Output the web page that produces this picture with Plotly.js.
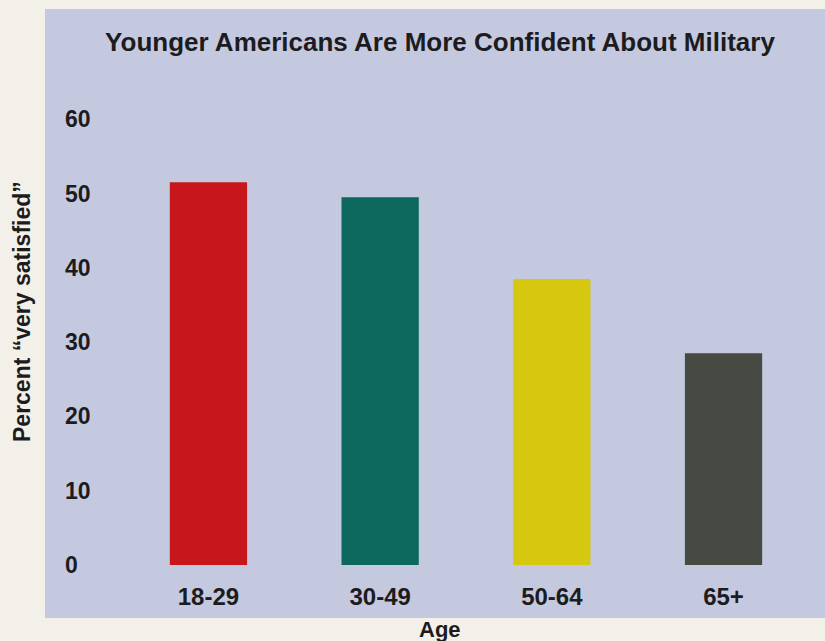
<!DOCTYPE html>
<html>
<head>
<meta charset="utf-8">
<script src="https://cdn.plot.ly/plotly-3.0.1.min.js"></script>
<style>
  html, body { margin: 0; padding: 0; background: #f3f0ea; }
  #chart { width: 825px; height: 641px; }
</style>
</head>
<body>
<div id="chart"></div>
<script>
// Data
const ageGroups = ["18-29", "30-49", "50-64", "65+"];
const pctVerySatisfied = [51.5, 49.5, 38.5, 28.5];
const barColors = ["#c8171b", "#0c685c", "#d5c80f", "#474a43"];
const yTickVals = [0, 10, 20, 30, 40, 50, 60];

const chartTitle = "Younger Americans Are More Confident About Military";
const yTitle = "Percent \u201cvery satisfied\u201d";
const xTitle = "Age";

const FONT = "Liberation Sans, Arial, Helvetica, sans-serif";
const INK = "#1c1c1e";

// plot area: x 45..825, y 9..580 (px)
const PLOT_BOTTOM = 580, PLOT_H = 571;

const trace = {
  type: "bar",
  x: ageGroups,
  y: pctVerySatisfied,
  width: 0.45,
  marker: { color: barColors, line: { width: 0 } },
  hoverinfo: "x+y"
};

const layout = {
  width: 825,
  height: 641,
  margin: { l: 45, r: 0, t: 9, b: 641 - PLOT_BOTTOM, pad: 0 },
  paper_bgcolor: "#f3f0ea",
  plot_bgcolor: "rgba(0,0,0,0)",
  showlegend: false,
  title: {
    text: chartTitle,
    x: 440 / 825,
    xanchor: "center",
    xref: "container",
    y: 1 - 42 / 641,
    yanchor: "middle",
    yref: "container",
    font: { family: FONT, size: 26, color: INK, weight: "bold" }
  },
  xaxis: {
    type: "category",
    range: [-0.952, 3.591],
    showgrid: false,
    zeroline: false,
    showline: false,
    ticks: "",
    ticklabelstandoff: 0,
    tickfont: { family: FONT, size: 24, color: INK, weight: "bold" },
    fixedrange: true
  },
  yaxis: {
    range: [-2.02, 74.83],
    tickvals: yTickVals,
    showgrid: false,
    zeroline: false,
    showline: false,
    ticks: "",
    ticklabelposition: "inside",
    ticklabelstandoff: 17,
    tickfont: { family: FONT, size: 23, color: INK, weight: "bold" },
    fixedrange: true
  },
  shapes: [
    {
      type: "rect",
      xref: "paper", yref: "paper",
      x0: 0, x1: 1, y0: (PLOT_BOTTOM - 618) / PLOT_H, y1: 1,
      fillcolor: "#c5c9e0",
      line: { width: 0 },
      layer: "below"
    }
  ],
  annotations: [
    {
      text: xTitle,
      xref: "paper", yref: "paper",
      x: (440 - 45) / 780, y: (PLOT_BOTTOM - 629) / PLOT_H,
      xanchor: "center", yanchor: "middle",
      showarrow: false,
      font: { family: FONT, size: 22, color: INK, weight: "bold" }
    },
    {
      text: yTitle,
      xref: "paper", yref: "paper",
      x: (22 - 45) / 780, y: (PLOT_BOTTOM - 312) / PLOT_H,
      xanchor: "center", yanchor: "middle",
      textangle: -90,
      showarrow: false,
      font: { family: FONT, size: 23, color: INK, weight: "bold" }
    }
  ]
};

Plotly.newPlot("chart", [trace], layout, { displayModeBar: false, staticPlot: true });
</script>
</body>
</html>
